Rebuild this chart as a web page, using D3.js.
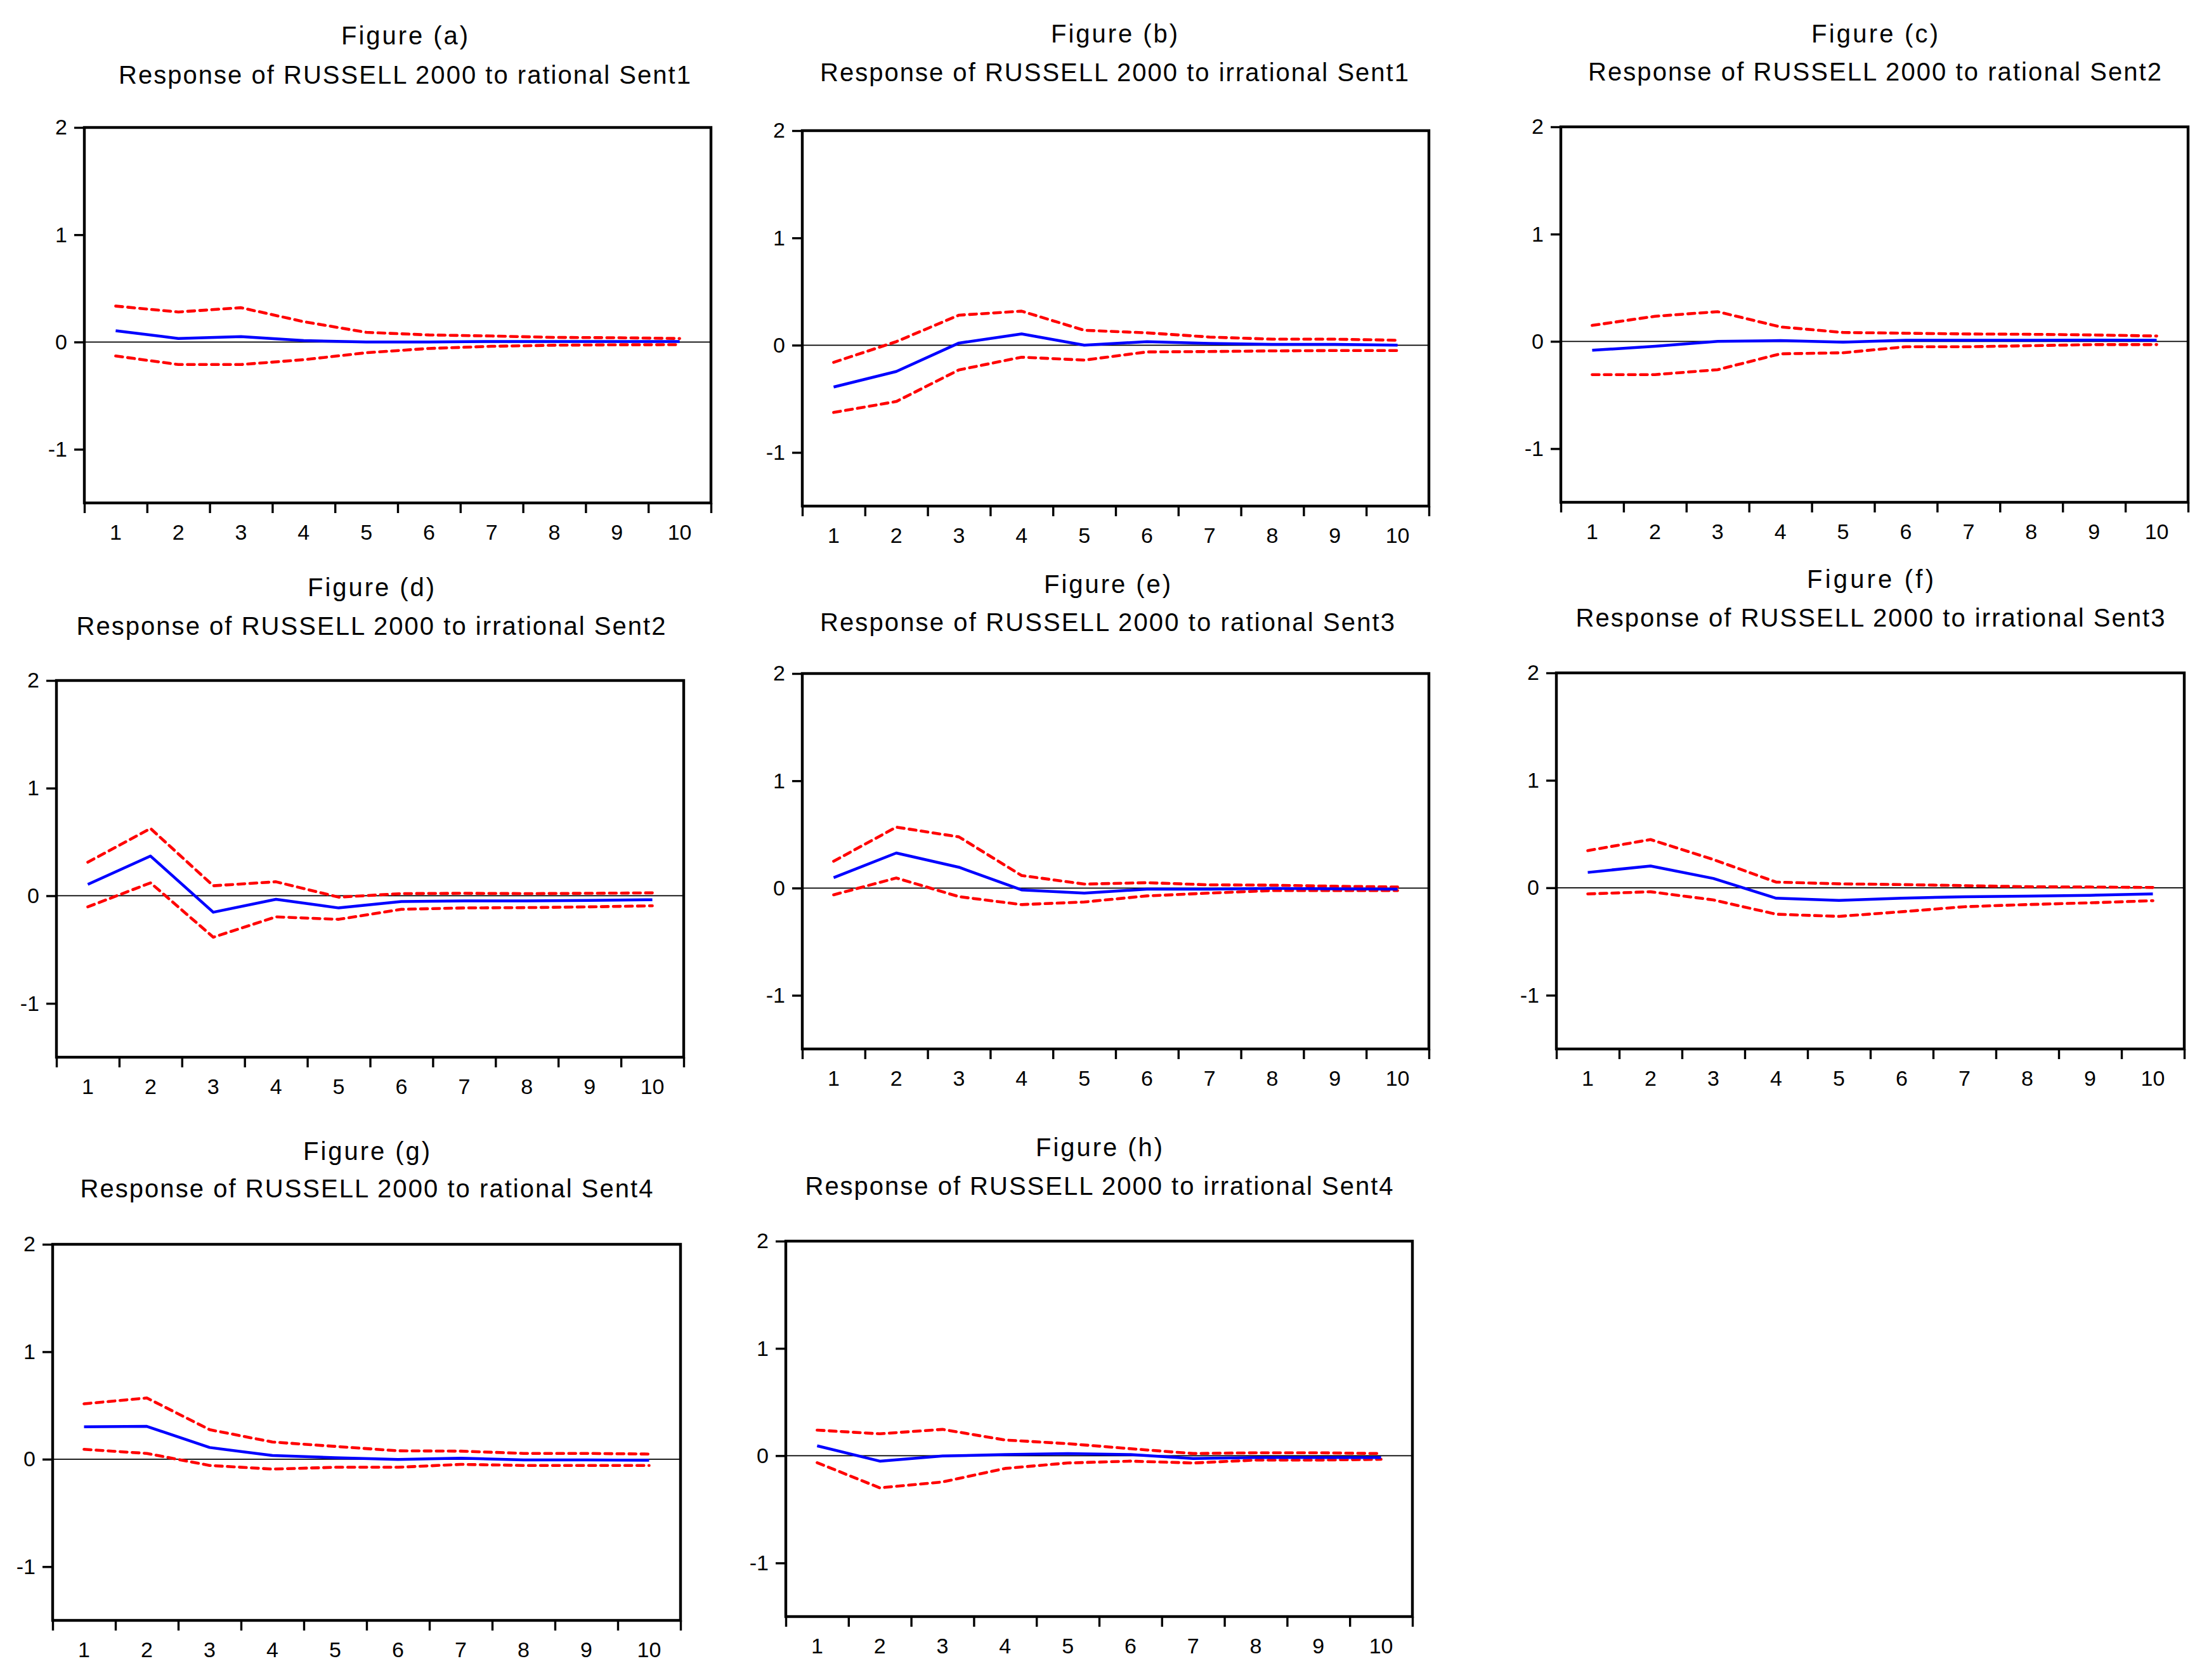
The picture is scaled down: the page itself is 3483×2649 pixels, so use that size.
<!DOCTYPE html>
<html>
<head>
<meta charset="utf-8">
<script src="https://cdn.jsdelivr.net/npm/d3@7"></script>
<style>
  html, body { margin: 0; padding: 0; background: #fff; }
  svg { display: block; }
</style>
</head>
<body>
<script>
// ---------------- DATA ----------------
const periods = [1, 2, 3, 4, 5, 6, 7, 8, 9, 10];
const yTickValues = [2, 1, 0, -1];
const yDomain = [-1.5, 2];

const figureLabels = ["Figure (a)", "Figure (b)", "Figure (c)", "Figure (d)",
                      "Figure (e)", "Figure (f)", "Figure (g)", "Figure (h)"];
const subtitles = [
  "Response of RUSSELL 2000 to rational Sent1",
  "Response of RUSSELL 2000 to irrational Sent1",
  "Response of RUSSELL 2000 to rational Sent2",
  "Response of RUSSELL 2000 to irrational Sent2",
  "Response of RUSSELL 2000 to rational Sent3",
  "Response of RUSSELL 2000 to irrational Sent3",
  "Response of RUSSELL 2000 to rational Sent4",
  "Response of RUSSELL 2000 to irrational Sent4"
];

// (a)
const respA  = [0.105, 0.033, 0.050, 0.013, 0.000, 0.000, 0.005, 0.005, 0.005, 0.005];
const upperA = [0.335, 0.280, 0.320, 0.190, 0.090, 0.066, 0.056, 0.043, 0.040, 0.033];
const lowerA = [-0.130, -0.210, -0.210, -0.165, -0.100, -0.060, -0.040, -0.030, -0.026, -0.025];
// (b)
const respB  = [-0.390, -0.245, 0.020, 0.105, 0.000, 0.033, 0.016, 0.007, 0.007, 0.000];
const upperB = [-0.160, 0.033, 0.280, 0.317, 0.139, 0.115, 0.076, 0.056, 0.056, 0.046];
const lowerB = [-0.627, -0.525, -0.230, -0.112, -0.139, -0.063, -0.059, -0.053, -0.050, -0.050];
// (c)
const respC  = [-0.083, -0.046, 0.000, 0.007, -0.007, 0.010, 0.010, 0.010, 0.012, 0.010];
const upperC = [0.149, 0.234, 0.277, 0.135, 0.083, 0.076, 0.069, 0.066, 0.060, 0.050];
const lowerC = [-0.310, -0.310, -0.264, -0.116, -0.106, -0.050, -0.050, -0.040, -0.030, -0.030];
// (d)
const respD  = [0.106, 0.369, -0.153, -0.033, -0.113, -0.053, -0.047, -0.047, -0.043, -0.037];
const upperD = [0.312, 0.625, 0.093, 0.130, -0.013, 0.020, 0.023, 0.020, 0.023, 0.027];
const lowerD = [-0.103, 0.120, -0.385, -0.196, -0.219, -0.126, -0.113, -0.110, -0.103, -0.093];
// (e)
const respE  = [0.097, 0.327, 0.194, -0.017, -0.047, -0.010, -0.010, -0.003, -0.007, -0.010];
const upperE = [0.250, 0.568, 0.477, 0.117, 0.037, 0.050, 0.030, 0.027, 0.017, 0.010];
const lowerE = [-0.063, 0.094, -0.080, -0.154, -0.130, -0.073, -0.047, -0.023, -0.023, -0.023];
// (f)
const respF  = [0.143, 0.203, 0.087, -0.097, -0.117, -0.097, -0.083, -0.077, -0.070, -0.057];
const upperF = [0.346, 0.449, 0.263, 0.053, 0.037, 0.030, 0.020, 0.010, 0.007, 0.003];
const lowerF = [-0.057, -0.037, -0.113, -0.246, -0.266, -0.223, -0.176, -0.156, -0.140, -0.120];
// (g)
const respG  = [0.302, 0.306, 0.109, 0.034, 0.014, -0.003, 0.010, -0.007, -0.007, -0.010];
const upperG = [0.516, 0.570, 0.275, 0.160, 0.119, 0.078, 0.075, 0.054, 0.054, 0.048];
const lowerG = [0.092, 0.054, -0.058, -0.092, -0.075, -0.075, -0.048, -0.058, -0.058, -0.058];
// (h)
const respH  = [0.092, -0.051, -0.003, 0.010, 0.020, 0.010, -0.027, -0.017, -0.017, -0.017];
const upperH = [0.238, 0.204, 0.245, 0.146, 0.112, 0.065, 0.020, 0.027, 0.027, 0.020];
const lowerH = [-0.065, -0.300, -0.245, -0.119, -0.068, -0.051, -0.068, -0.041, -0.041, -0.034];

const responses = [respA, respB, respC, respD, respE, respF, respG, respH];
const uppers    = [upperA, upperB, upperC, upperD, upperE, upperF, upperG, upperH];
const lowers    = [lowerA, lowerB, lowerC, lowerD, lowerE, lowerF, lowerG, lowerH];

// ---------------- LAYOUT (pixel geometry per panel) ----------------
const W = 3483, H = 2649;
const layout = [
  {L: 133,  R: 1121, T: 201,  B: 793,  cx: 638,  b1: 70,   b2: 132,  w: 902},
  {L: 1265, R: 2253, T: 206,  B: 798,  cx: 1757, b1: 67,   b2: 128,  w: 928},
  {L: 2461, R: 3450, T: 200,  B: 792,  cx: 2956, b1: 67,   b2: 127,  w: 904},
  {L: 89,   R: 1078, T: 1073, B: 1667, cx: 585,  b1: 940,  b2: 1001, w: 929},
  {L: 1265, R: 2253, T: 1062, B: 1654, cx: 1746, b1: 935,  b2: 995,  w: 906},
  {L: 2454, R: 3444, T: 1061, B: 1654, cx: 2949, b1: 927,  b2: 988,  w: 929},
  {L: 83,   R: 1073, T: 1962, B: 2555, cx: 578,  b1: 1829, b2: 1888, w: 903},
  {L: 1239, R: 2227, T: 1957, B: 2549, cx: 1733, b1: 1823, b2: 1884, w: 927}
];

const FONT = "'Liberation Sans', Arial, Helvetica, sans-serif";

const svg = d3.select("body").append("svg")
  .attr("width", W).attr("height", H)
  .attr("viewBox", `0 0 ${W} ${H}`);

svg.append("rect").attr("width", W).attr("height", H).attr("fill", "#fff");

layout.forEach((p, i) => {
  const g = svg.append("g");

  const x = d3.scaleBand().domain(periods).range([p.L, p.R]).padding(0);
  const xEdge = d3.scaleLinear().domain([0, periods.length]).range([p.L, p.R]);
  const y = d3.scaleLinear().domain(yDomain).range([p.B, p.T]);
  const cxOf = d => x(d) + x.bandwidth() / 2;

  // titles
  g.append("text")
    .attr("x", p.cx).attr("y", p.b1)
    .attr("text-anchor", "middle")
    .attr("font-family", FONT).attr("font-size", 40)
    .attr("textLength", 200).attr("lengthAdjust", "spacing")
    .attr("fill", "#000")
    .text(figureLabels[i]);
  g.append("text")
    .attr("x", p.cx).attr("y", p.b2)
    .attr("text-anchor", "middle")
    .attr("font-family", FONT).attr("font-size", 40)
    .attr("textLength", p.w).attr("lengthAdjust", "spacing")
    .attr("fill", "#000")
    .text(subtitles[i]);

  // zero line
  g.append("line")
    .attr("x1", p.L).attr("x2", p.R)
    .attr("y1", y(0)).attr("y2", y(0))
    .attr("stroke", "#000").attr("stroke-width", 1.8);

  // confidence bands
  const line = d3.line().x((d, k) => cxOf(periods[k])).y(d => y(d));
  [uppers[i], lowers[i]].forEach(arr => {
    g.append("path")
      .datum(arr)
      .attr("d", line)
      .attr("fill", "none")
      .attr("stroke", "#ff0000")
      .attr("stroke-width", 4.6)
      .attr("stroke-linecap", "round")
      .attr("stroke-linejoin", "round")
      .attr("stroke-dasharray", "11,8");
  });

  // response
  g.append("path")
    .datum(responses[i])
    .attr("d", line)
    .attr("fill", "none")
    .attr("stroke", "#0000ff")
    .attr("stroke-width", 4.5)
    .attr("stroke-linejoin", "round");

  // frame
  g.append("rect")
    .attr("x", p.L).attr("y", p.T)
    .attr("width", p.R - p.L).attr("height", p.B - p.T)
    .attr("fill", "none").attr("stroke", "#000").attr("stroke-width", 4.4);

  // y axis
  const yAxis = g.append("g")
    .attr("transform", `translate(${p.L},0)`)
    .call(d3.axisLeft(y).tickValues(yTickValues).tickSize(16).tickPadding(11)
      .tickFormat(d3.format("d")));
  yAxis.select(".domain").remove();
  yAxis.selectAll(".tick line").attr("stroke", "#000").attr("stroke-width", 3.4);
  yAxis.selectAll(".tick text")
    .attr("font-family", FONT).attr("font-size", 34).attr("fill", "#000")
    .text(d => d < 0 ? "-" + Math.abs(d) : String(d));

  // x axis: ticks at band edges
  const xTicks = g.append("g")
    .attr("transform", `translate(0,${p.B})`)
    .call(d3.axisBottom(xEdge).tickValues(d3.range(0, periods.length + 1))
      .tickSize(16).tickFormat(""));
  xTicks.select(".domain").remove();
  xTicks.selectAll(".tick line").attr("stroke", "#000").attr("stroke-width", 3.4);

  // x axis labels at band centres
  const xLabels = g.append("g")
    .attr("transform", `translate(0,${p.B})`)
    .call(d3.axisBottom(x).tickSize(0).tickPadding(34));
  xLabels.select(".domain").remove();
  xLabels.selectAll(".tick text")
    .attr("font-family", FONT).attr("font-size", 34).attr("fill", "#000");
});
</script>
</body>
</html>
